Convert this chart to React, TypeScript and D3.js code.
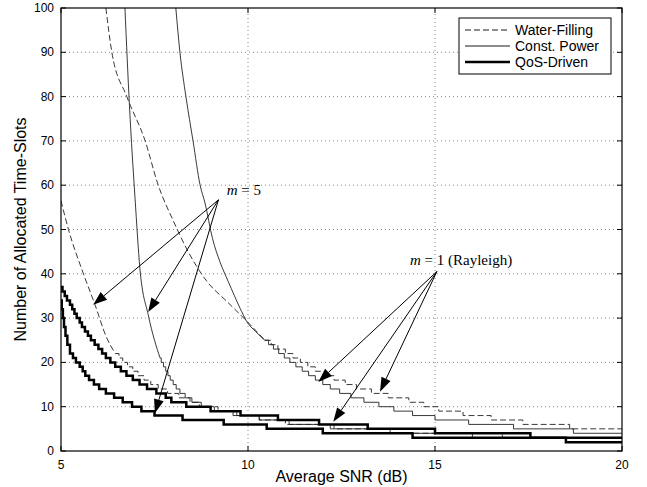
import * as d3 from "d3";

// axis ticks
const xTicks = [5, 10, 15, 20];
const yTicks = [0, 10, 20, 30, 40, 50, 60, 70, 80, 90, 100];

// m = 1 (Rayleigh), water-filling: smooth upper part + integer staircase
const wfM1Smooth = [[6.2, 100], [6.36, 90], [6.76, 80], [7.25, 70], [7.6, 60], [8.0, 52], [8.4, 45], [8.9, 38.3], [9.43, 33.8], [10.05, 28.6], [10.45, 25]];
const wfM1Steps = [[10.45, 25], [10.62, 24], [10.8, 23], [11.0, 22], [11.2, 21], [11.4, 20], [11.6, 19], [11.8, 18], [12.05, 17], [12.3, 16], [12.6, 15], [12.9, 14], [13.3, 13], [13.75, 12], [14.3, 11], [14.7, 10], [15.1, 9], [15.75, 8], [16.5, 7], [17.35, 6], [18.6, 5], [20, 5]];

// m = 1, constant power
const cpM1Smooth = [[8.07, 100], [8.18, 90], [8.34, 80], [8.53, 70], [8.72, 60], [8.85, 56], [9.05, 48], [9.25, 42.7], [9.47, 38.3], [9.79, 32.2], [9.96, 29.3], [10.2, 27], [10.45, 25]];
const cpM1Steps = [[10.45, 25], [10.55, 24], [10.68, 23], [10.82, 22], [10.97, 21], [11.12, 20], [11.28, 19], [11.45, 18], [11.62, 17], [11.8, 16], [12.0, 15], [12.2, 14], [12.45, 13], [12.75, 12], [13.1, 11], [13.5, 10], [13.9, 9], [14.4, 8], [15.0, 7], [15.9, 6], [17.1, 5], [18.7, 4], [20, 4]];

// m = 5, water-filling
const wfM5Smooth = [[5.0, 56.5], [5.2, 50], [5.6, 40], [5.91, 33], [6.2, 26], [6.45, 22]];
const wfM5Steps = [[6.45, 22], [6.55, 21], [6.65, 20], [6.78, 19], [6.92, 18], [7.06, 17], [7.22, 16], [7.4, 15], [7.6, 14], [7.85, 13], [8.15, 12], [8.45, 11], [8.7, 10], [9.2, 9], [9.7, 8], [10.3, 7], [11.0, 6], [12.3, 5], [14.2, 4], [16.8, 3], [20, 3]];

// m = 5, constant power
const cpM5Smooth = [[6.71, 100], [6.83, 78], [6.98, 57], [7.11, 41.2], [7.33, 30.8], [7.5, 25], [7.65, 21]];
const cpM5Steps = [[7.65, 21], [7.68, 20], [7.74, 19], [7.8, 18], [7.86, 17], [7.92, 16], [8.0, 15], [8.08, 14], [8.18, 13], [8.32, 12], [8.5, 11], [8.75, 10], [9.1, 9], [9.6, 8], [10.3, 7], [11.1, 6], [12.2, 5], [13.8, 4], [16.0, 3], [20, 3]];

// QoS-driven (thick)
const qosM1Steps = [[5.0, 37], [5.04, 36], [5.1, 35], [5.16, 34], [5.24, 33], [5.3, 32], [5.36, 31], [5.42, 30], [5.5, 29], [5.56, 28], [5.64, 27], [5.72, 26], [5.8, 25], [5.9, 24], [6.0, 23], [6.1, 22], [6.2, 21], [6.32, 20], [6.45, 19], [6.6, 18], [6.75, 17], [6.92, 16], [7.1, 15], [7.3, 14], [7.55, 13], [7.8, 12], [7.95, 11], [8.35, 10], [9.0, 9], [9.8, 8], [10.8, 7], [11.9, 6], [13.2, 5], [15.0, 4], [17.55, 3], [20, 3]];
const qosM5Steps = [[5.0, 34], [5.02, 32], [5.05, 30], [5.08, 28], [5.12, 26], [5.17, 24], [5.24, 22], [5.32, 21], [5.4, 20], [5.5, 19], [5.58, 18], [5.65, 17], [5.75, 16], [5.88, 15], [6.02, 14], [6.2, 13], [6.42, 12], [6.65, 11], [6.9, 10], [7.15, 9], [7.5, 8], [8.25, 7], [9.35, 6], [10.5, 5], [12.0, 4], [14.4, 3], [18.5, 2], [20, 2]];

// annotations (data coords)
const m5Origin = [9.21, 56.7];
const m5Tips = [[5.86, 33], [7.33, 31.4], [7.51, 8.5]];
const m1Origin = [15.05, 40.5];
const m1Tips = [[11.88, 15.6], [13.53, 13.4], [12.28, 6.6]];

const legendItems = ["Water-Filling", "Const. Power", "QoS-Driven"];

const W = 647, H = 487;
const margin = {top: 8, right: 25, bottom: 36, left: 61};
const sans = "'Liberation Sans', Arial, Helvetica, sans-serif";
const serif = "'Liberation Serif', 'Times New Roman', serif";

export default function App() {
  const x = d3.scaleLinear().domain([5, 20]).range([margin.left, W - margin.right]);
  const y = d3.scaleLinear().domain([0, 100]).range([H - margin.bottom, margin.top]);

  const smooth = d3.line<number[]>().x(d => x(d[0])).y(d => y(d[1])).curve(d3.curveMonotoneX);
  const steps = d3.line<number[]>().x(d => x(d[0])).y(d => y(d[1])).curve(d3.curveStepAfter);

  const x0 = x(5), x1 = x(20), y0 = y(0), y1 = y(100);

  const arrow = (o: number[], t: number[], key: string) => {
    const ox = x(o[0]), oy = y(o[1]), tx = x(t[0]), ty = y(t[1]);
    const ang = Math.atan2(ty - oy, tx - ox);
    const len = 14, hw = 5;
    const bx = tx - len * Math.cos(ang), by = ty - len * Math.sin(ang);
    const px = -Math.sin(ang) * hw, py = Math.cos(ang) * hw;
    return <g key={key}>
      <line x1={ox} y1={oy} x2={bx} y2={by} stroke="#000" strokeWidth={1}/>
      <polygon points={`${tx},${ty} ${bx + px},${by + py} ${bx - px},${by - py}`} fill="#000"/>
    </g>;
  };

  return (
    <svg width={W} height={H} style={{position: "absolute", left: 0, top: 0, background: "#fff"}}>
      <defs>
        <clipPath id="plot"><rect x={x0} y={y1} width={x1 - x0} height={y0 - y1}/></clipPath>
      </defs>
      <rect x={0} y={0} width={W} height={H} fill="#fff"/>

      {/* grid */}
      {xTicks.slice(1, -1).map(t =>
        <line key={"gx" + t} x1={x(t)} x2={x(t)} y1={y0} y2={y1} stroke="#888" strokeWidth={1} strokeDasharray="1,3"/>)}
      {yTicks.slice(1, -1).map(t =>
        <line key={"gy" + t} x1={x0} x2={x1} y1={y(t)} y2={y(t)} stroke="#888" strokeWidth={1} strokeDasharray="1,3"/>)}

      {/* curves */}
      <g clipPath="url(#plot)" fill="none">
        <path d={smooth(wfM5Smooth)!} stroke="#222" strokeWidth={0.9} strokeDasharray="6,3"/>
        <path d={steps(wfM5Steps)!} stroke="#222" strokeWidth={0.9} strokeDasharray="6,3"/>
        <path d={smooth(wfM1Smooth)!} stroke="#222" strokeWidth={0.9} strokeDasharray="6,3"/>
        <path d={steps(wfM1Steps)!} stroke="#222" strokeWidth={0.9} strokeDasharray="6,3"/>
        <path d={smooth(cpM5Smooth)!} stroke="#222" strokeWidth={0.9}/>
        <path d={steps(cpM5Steps)!} stroke="#222" strokeWidth={0.9}/>
        <path d={smooth(cpM1Smooth)!} stroke="#222" strokeWidth={0.9}/>
        <path d={steps(cpM1Steps)!} stroke="#222" strokeWidth={0.9}/>
        <path d={steps(qosM1Steps)!} stroke="#000" strokeWidth={2.5}/>
        <path d={steps(qosM5Steps)!} stroke="#000" strokeWidth={2.5}/>
      </g>

      {/* frame and ticks */}
      <rect x={x0} y={y1} width={x1 - x0} height={y0 - y1} fill="none" stroke="#000" strokeWidth={1.2}/>
      {xTicks.map(t => <g key={"tx" + t}>
        <line x1={x(t)} x2={x(t)} y1={y0} y2={y0 - 5} stroke="#000"/>
        <line x1={x(t)} x2={x(t)} y1={y1} y2={y1 + 5} stroke="#000"/>
        <text x={x(t)} y={469} textAnchor="middle" fontFamily={sans} fontSize={12}>{t}</text>
      </g>)}
      {yTicks.map(t => <g key={"ty" + t}>
        <line x1={x0} x2={x0 + 5} y1={y(t)} y2={y(t)} stroke="#000"/>
        <line x1={x1} x2={x1 - 5} y1={y(t)} y2={y(t)} stroke="#000"/>
        <text x={54} y={y(t) + 4} textAnchor="end" fontFamily={sans} fontSize={12}>{t}</text>
      </g>)}

      {/* axis titles */}
      <text x={(x0 + x1) / 2} y={482} textAnchor="middle" fontFamily={sans} fontSize={16}>Average SNR (dB)</text>
      <text transform={`translate(26, ${(y0 + y1) / 2}) rotate(-90)`} textAnchor="middle" fontFamily={sans} fontSize={16}>Number of Allocated Time-Slots</text>

      {/* annotations */}
      {m5Tips.map((t, i) => arrow(m5Origin, t, "a5" + i))}
      {m1Tips.map((t, i) => arrow(m1Origin, t, "a1" + i))}
      <text x={x(9.43)} y={y(57.8)} fontFamily={serif} fontSize={15}>
        <tspan fontStyle="italic">m</tspan> = 5
      </text>
      <text x={x(14.33)} y={y(42)} fontFamily={serif} fontSize={15}>
        <tspan fontStyle="italic">m</tspan> = 1 (Rayleigh)
      </text>

      {/* legend */}
      <g>
        <rect x={459} y={18} width={152} height={56} fill="#fff" stroke="#000" strokeWidth={1}/>
        {legendItems.map((name, i) => {
          const ly = 30 + i * 16;
          return <g key={name}>
            <line x1={465} x2={510} y1={ly} y2={ly} stroke="#000"
                  strokeWidth={i === 2 ? 2.5 : 0.9} strokeDasharray={i === 0 ? "6,3" : undefined}/>
            <text x={515} y={ly + 5} fontFamily={sans} fontSize={14}>{name}</text>
          </g>;
        })}
      </g>
    </svg>
  );
}
